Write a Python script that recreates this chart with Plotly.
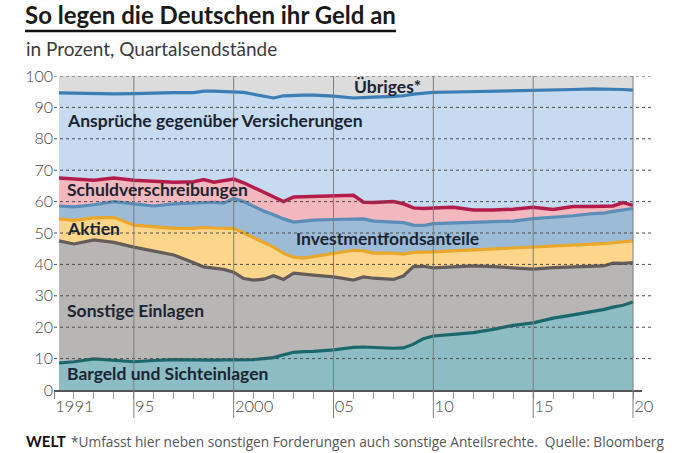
import plotly.graph_objects as go

# ---- data (cumulative boundary levels in %) ----
years = [1991.25, 1992, 1993, 1994, 1995, 1996, 1997, 1998, 1998.5, 1999, 1999.5,
         2000, 2000.5, 2001, 2001.5, 2002, 2002.5, 2003, 2003.5, 2004, 2005, 2006,
         2006.5, 2007, 2008, 2008.5, 2009, 2009.5, 2010, 2011, 2012, 2013, 2014,
         2015, 2016, 2017, 2018, 2018.5, 2019, 2019.5, 2020]

bargeld_top = [8.6, 9.0, 9.9, 9.4, 9.0, 9.4, 9.7, 9.6, 9.5, 9.5, 9.6,
               9.6, 9.5, 9.7, 10.0, 10.3, 11.2, 12.0, 12.2, 12.3, 12.8, 13.6,
               13.7, 13.5, 13.3, 13.4, 14.6, 16.3, 17.2, 17.7, 18.3, 19.3, 20.6,
               21.4, 22.9, 23.9, 25.0, 25.6, 26.4, 27.0, 28.0]

einlagen_top = [47.5, 46.5, 47.8, 47.0, 45.5, 44.3, 43.0, 40.5, 39.2, 38.8, 38.4,
                37.5, 35.5, 35.0, 35.3, 36.4, 35.2, 37.2, 37.0, 36.6, 36.0, 35.0,
                36.0, 35.6, 35.2, 36.3, 39.3, 39.4, 38.9, 39.2, 39.5, 39.3, 38.9,
                38.5, 39.0, 39.2, 39.4, 39.5, 40.4, 40.3, 40.6]

aktien_top = [54.5, 54.0, 54.8, 55.0, 52.5, 52.0, 51.5, 51.5, 51.8, 51.6, 51.6,
              51.5, 50.0, 48.5, 47.0, 45.5, 43.5, 42.3, 42.0, 42.5, 43.3, 44.5,
              44.3, 43.6, 43.6, 43.3, 43.8, 44.0, 44.0, 44.3, 44.6, 45.0, 45.3,
              45.5, 45.8, 46.0, 46.4, 46.6, 46.9, 47.1, 47.5]

fonds_top = [58.6, 58.3, 59.0, 60.0, 59.3, 58.6, 59.3, 59.6, 59.6, 59.8, 59.5,
             61.0, 60.0, 58.5, 57.0, 55.8, 54.5, 53.5, 53.8, 54.1, 54.3, 54.6,
             54.5, 53.8, 53.5, 53.3, 52.5, 52.4, 53.0, 53.2, 53.2, 53.5, 53.8,
             54.6, 55.0, 55.5, 56.2, 56.3, 56.9, 57.3, 57.8]

schuld_top = [67.5, 67.2, 66.8, 67.5, 66.8, 66.5, 66.2, 66.3, 67.0, 66.2, 66.8,
              67.2, 66.0, 64.5, 62.7, 61.5, 60.0, 61.5, 61.6, 61.7, 62.0, 62.0,
              59.8, 59.7, 60.0, 59.3, 58.0, 57.8, 58.0, 58.2, 57.3, 57.3, 57.6,
              58.2, 57.5, 58.4, 58.4, 58.6, 58.6, 59.7, 58.8]

versich_top = [94.6, 94.5, 94.4, 94.3, 94.4, 94.6, 94.7, 94.7, 95.2, 95.2, 95.0,
               94.9, 94.8, 94.2, 93.5, 93.0, 93.7, 93.9, 93.9, 93.9, 93.6, 93.0,
               93.2, 93.3, 93.5, 93.7, 94.2, 94.6, 94.8, 94.9, 95.0, 95.1, 95.2,
               95.3, 95.5, 95.7, 95.9, 95.9, 95.8, 95.7, 95.5]

uebriges_top = [100] * len(years)

tick_years = [1991, 1995, 2000, 2005, 2010, 2015, 2020]
tick_labels = ["1991", "95", "2000", "05", "10", "15", "20"]
y_ticks = [0, 10, 20, 30, 40, 50, 60, 70, 80, 90, 100]

series = [
    ("Bargeld und Sichteinlagen", bargeld_top, "#8dbdc4", "#1b686c", 3.2),
    ("Sonstige Einlagen", einlagen_top, "#b8b5b5", "#645c58", 3.2),
    ("Aktien", aktien_top, "#fdd68c", "#e9a72c", 3.2),
    ("Investmentfondsanteile", fonds_top, "#9bbbd6", "#5a8db8", 3.2),
    ("Schuldverschreibungen", schuld_top, "#f3b7be", "#b31d4b", 3.5),
    ("Ansprüche gegenüber Versicherungen", versich_top, "#c6daf0", "#3b7db5", 3.2),
    ("Übriges*", uebriges_top, "#dcdcdc", "rgba(0,0,0,0)", 0),
]

fig = go.Figure()
for i, (name, vals, fillc, linec, lw) in enumerate(series):
    fig.add_trace(go.Scatter(
        x=years, y=vals, name=name, mode="lines",
        fill="tozeroy" if i == 0 else "tonexty",
        fillcolor=fillc,
        line=dict(color=linec, width=lw if lw else 0.1, shape="linear"),
        hoverinfo="skip", showlegend=False,
    ))

# ---- layout ----
L, R, T, B = 54, 38, 76, 63
W, H = 680, 453
pw, ph = W - L - R, H - T - B

def px(xp):
    return (xp - L) / pw

def py(yp):
    return (H - B - yp) / ph

shapes = []
# dotted horizontal grid (extends a bit right of the plot)
for v in y_ticks[1:]:
    shapes.append(dict(type="line", xref="paper", yref="y", x0=0.0, x1=px(651),
                       y0=v, y1=v, layer="above",
                       line=dict(color="#4a4a4a", width=1, dash="dot")))
# vertical year lines (extend below axis like long ticks)
for yr in tick_years[1:]:
    shapes.append(dict(type="line", xref="x", yref="paper", x0=yr, x1=yr,
                       y0=py(418), y1=1, layer="above",
                       line=dict(color="#7d7d7d", width=1)))
# title underline
shapes.append(dict(type="line", xref="paper", yref="paper", x0=px(25), x1=px(396),
                   y0=py(31), y1=py(31), line=dict(color="#111111", width=2.5)))

label_font = dict(family="Lato, Open Sans, sans-serif", size=17.5, color="#1b2432", weight=700)
inner_labels = [
    ("Übriges*", 2005.95, 96.8),
    ("Ansprüche gegenüber Versicherungen", 1991.55, 85.7),
    ("Schuldverschreibungen", 1991.55, 64.0),
    ("Aktien", 1991.55, 51.4),
    ("Investmentfondsanteile", 2003.0, 48.1),
    ("Sonstige Einlagen", 1991.55, 25.4),
    ("Bargeld und Sichteinlagen", 1991.55, 5.4),
]
annotations = []
for txt, xx, yy in inner_labels:
    annotations.append(dict(text=txt, x=xx, y=yy, xref="x", yref="y",
                            xanchor="left", yanchor="middle", showarrow=False,
                            font=label_font))

annotations += [
    dict(text="in Prozent, Quartalsendstände", x=px(24), y=py(49), xref="paper", yref="paper",
         xanchor="left", yanchor="middle", showarrow=False,
         font=dict(family="Lato, sans-serif", size=19, color="#3a3a3a", weight=400)),
    dict(text="<b>WELT</b>", x=px(24), y=py(441), xref="paper", yref="paper",
         xanchor="left", yanchor="middle", showarrow=False,
         font=dict(family="Lato, sans-serif", size=15, color="#111111", weight=900)),
    dict(text="*Umfasst hier neben sonstigen Forderungen auch sonstige Anteilsrechte.  Quelle: Bloomberg",
         x=px(69), y=py(441), xref="paper", yref="paper",
         xanchor="left", yanchor="middle", showarrow=False,
         font=dict(family="Open Sans, sans-serif", size=13.7, color="#555555", weight=400)),
]

fig.update_layout(
    width=W, height=H,
    margin=dict(l=L, r=R, t=T, b=B, pad=0),
    paper_bgcolor="white", plot_bgcolor="white",
    title=dict(text="<b>So legen die Deutschen ihr Geld an</b>",
               x=25 / W, xanchor="left", xref="container",
               y=1 - 16 / H, yanchor="middle", yref="container",
               font=dict(family="Lato, sans-serif", size=24, color="#1a1a1a")),
    xaxis=dict(range=[1991.0, 2020.45], tickvals=tick_years, ticktext=tick_labels,
               ticks="outside", ticklen=7, tickcolor="#7d7d7d", tickwidth=1,
               ticklabelposition="outside right",
               minor=dict(ticks="outside", ticklen=7, dtick=1, tick0=1991,
                          tickcolor="#9a9a9a", showgrid=False),
               showgrid=False, zeroline=False, showline=True, linecolor="#555555",
               linewidth=1.5, layer="above traces",
               tickfont=dict(family="Lato, sans-serif", size=16.5, color="#444444", weight=300)),
    yaxis=dict(range=[0, 100], tickvals=y_ticks, ticks="", showgrid=False,
               zeroline=False, showline=False,
               tickfont=dict(family="Lato, sans-serif", size=16, color="#444444", weight=300)),
    shapes=shapes, annotations=annotations,
)

fig.write_html("out.html")
